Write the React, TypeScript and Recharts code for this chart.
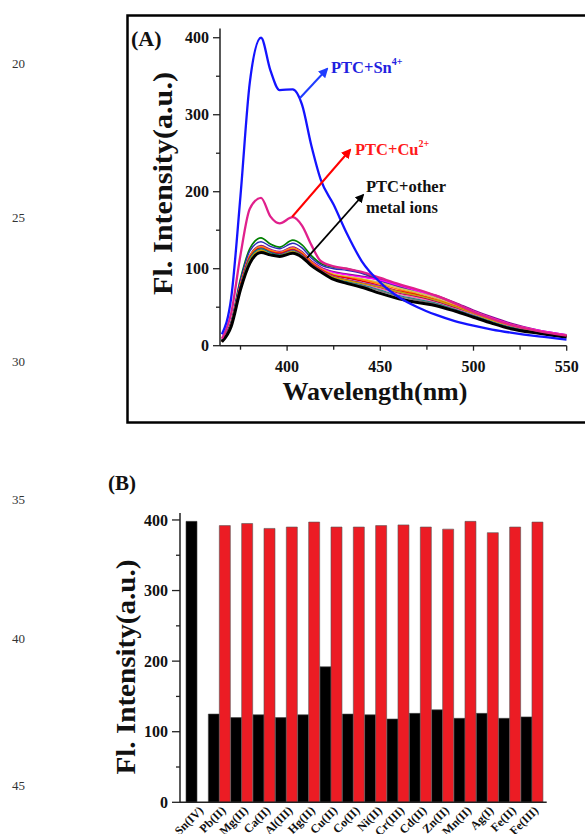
import React from 'react';
import { LineChart, Line, XAxis, YAxis, BarChart, Bar } from 'recharts';

// ---------- Panel A data ----------
const wavelengths = [365, 370, 375, 380, 386, 391, 396, 403, 408, 413, 418, 425, 432, 440, 450, 460, 470, 480, 490, 500, 510, 520, 535, 550];
const snCurve = [15, 62, 195, 342, 400, 358, 332, 333, 313, 260, 216, 183, 146, 110, 82, 63, 50, 40, 32, 26, 21, 17, 12, 8];
const cuCurve = [9, 42, 118, 178, 192, 168, 159, 167, 156, 131, 110, 103, 100, 96, 88, 80, 73, 65, 55, 44, 35, 27, 19, 13];
const pbCurve = [5, 25, 73, 107, 121, 118, 116, 120, 115, 104, 96, 86, 81, 76, 68, 61, 56, 52, 45, 37, 29, 22, 16, 11];
const mgCurve = [7, 31, 87, 126, 140, 132, 128, 137, 131, 117, 107, 102, 100, 95, 85, 77, 70, 63, 53, 44, 35, 27, 19, 13];
const caCurve = [7, 30, 85, 123, 135, 129, 126, 133, 127, 114, 105, 100, 98, 94, 84, 76, 69, 62, 52, 43, 34, 27, 19, 13];
const alCurve = [6, 28, 80, 117, 130, 125, 122, 128, 122, 110, 102, 96, 93, 90, 86, 79, 72, 65, 56, 46, 37, 29, 20, 14];
const hgCurve = [6, 28, 79, 116, 128, 124, 121, 127, 121, 109, 101, 95, 92, 89, 85, 78, 71, 64, 55, 45, 36, 28, 20, 14];
const coCurve = [6, 27, 78, 115, 127, 123, 120, 126, 120, 108, 100, 93, 90, 87, 82, 75, 69, 62, 53, 44, 35, 27, 19, 13];
const niCurve = [6, 28, 80, 117, 129, 124, 121, 127, 121, 109, 100, 92, 89, 86, 80, 73, 67, 60, 52, 43, 34, 27, 19, 13];
const crCurve = [6, 27, 78, 115, 127, 122, 120, 125, 119, 107, 99, 91, 88, 84, 78, 71, 66, 59, 51, 42, 33, 26, 18, 13];
const cdCurve = [5, 26, 76, 113, 125, 121, 119, 124, 118, 106, 98, 90, 86, 82, 77, 70, 64, 58, 50, 41, 33, 26, 18, 12];
const znCurve = [5, 26, 77, 114, 126, 121, 119, 124, 118, 106, 97, 89, 85, 81, 75, 68, 63, 57, 49, 40, 32, 25, 18, 12];
const mnCurve = [5, 26, 75, 112, 124, 120, 118, 123, 117, 105, 97, 88, 84, 80, 74, 67, 62, 56, 48, 40, 32, 25, 17, 12];
const agCurve = [5, 26, 76, 113, 126, 121, 118, 123, 117, 105, 96, 88, 83, 79, 72, 65, 60, 55, 47, 39, 31, 24, 17, 12];
const fe2Curve = [5, 25, 74, 110, 123, 119, 117, 122, 116, 104, 96, 87, 82, 78, 71, 64, 59, 54, 46, 38, 30, 23, 17, 11];
const fe3Curve = [5, 25, 74, 111, 124, 119, 117, 122, 116, 105, 97, 89, 85, 81, 76, 70, 65, 59, 51, 42, 33, 26, 18, 12];

const xTicksA = [375, 400, 425, 450, 475, 500, 525, 550];
const yTicksA = [0, 50, 100, 150, 200, 250, 300, 350, 400];

// ---------- Panel B data ----------
const ions = ['Sn(IV)', 'Pb(II)', 'Mg(II)', 'Ca(II)', 'Al(III)', 'Hg(II)', 'Cu(II)', 'Co(II)', 'Ni(II)', 'Cr(III)', 'Cd(II)', 'Zn(II)', 'Mn(II)', 'Ag(I)', 'Fe(II)', 'Fe(III)'];
const ionOnly = [398, 125, 120, 124, 120, 124, 192, 125, 124, 118, 126, 131, 119, 126, 119, 121];
const ionPlusSn = [null, 392, 395, 388, 390, 397, 390, 390, 392, 393, 390, 387, 398, 382, 390, 397];
const yTicksB = [0, 50, 100, 150, 200, 250, 300, 350, 400];

const FONT = '"Liberation Serif", "Times New Roman", serif';
const AX = '#222';

const otherLines = [
  { key: 'mg', color: '#008000', w: 1.7, values: mgCurve },
  { key: 'ca', color: '#2a2ab8', w: 1.4, values: caCurve },
  { key: 'al', color: '#8b108b', w: 1.8, values: alCurve },
  { key: 'hg', color: '#ff00ff', w: 1.4, values: hgCurve },
  { key: 'co', color: '#d6c266', w: 1.7, values: coCurve },
  { key: 'ni', color: '#ff8c00', w: 1.4, values: niCurve },
  { key: 'cr', color: '#e80000', w: 1.4, values: crCurve },
  { key: 'cd', color: '#9932cc', w: 1.4, values: cdCurve },
  { key: 'zn', color: '#a0002a', w: 1.4, values: znCurve },
  { key: 'mn', color: '#ff69b4', w: 1.4, values: mnCurve },
  { key: 'ag', color: '#008b8b', w: 1.4, values: agCurve },
  { key: 'fe2', color: '#7a7a7a', w: 1.4, values: fe2Curve },
  { key: 'fe3', color: '#c8a000', w: 1.4, values: fe3Curve },
];

const specData = wavelengths.map((w, i) => {
  const row: any = { w, sn: snCurve[i], cu: cuCurve[i], pb: pbCurve[i] };
  otherLines.forEach((l) => { row[l.key] = l.values[i]; });
  return row;
});

const barData = ions.map((name, i) => ({ name, ion: ionOnly[i], ionSn: ionPlusSn[i] }));

const YTickA = (props: any) => {
  const { x, y, payload } = props;
  const v = payload.value;
  const major = v % 100 === 0;
  const ax = x + 11;
  return (
    <g>
      <line x1={ax - (major ? 7 : 4)} x2={ax} y1={y} y2={y} stroke={AX} strokeWidth={1.3} />
      {major && (
        <text x={x} y={y} dy="0.35em" textAnchor="end" fontFamily={FONT} fontWeight="bold" fontSize={16} fill="#111">{v}</text>
      )}
    </g>
  );
};

const XTickA = (props: any) => {
  const { x, y, payload } = props;
  const v = payload.value;
  const major = v % 50 === 0;
  const ay = y - 15;
  return (
    <g>
      <line x1={x} x2={x} y1={ay} y2={ay + (major ? 5 : 4)} stroke={AX} strokeWidth={1.3} />
      {major && (
        <text x={x} y={y} dy="0.71em" textAnchor="middle" fontFamily={FONT} fontWeight="bold" fontSize={16} fill="#111">{v}</text>
      )}
    </g>
  );
};

const YTickB = (props: any) => {
  const { x, y, payload } = props;
  const v = payload.value;
  const major = v % 100 === 0;
  const ax = x + 12;
  return (
    <g>
      <line x1={ax - (major ? 8 : 4)} x2={ax} y1={y} y2={y} stroke={AX} strokeWidth={1.3} />
      {major && (
        <text x={x} y={y} dy="0.35em" textAnchor="end" fontFamily={FONT} fontWeight="bold" fontSize={16} fill="#111">{v}</text>
      )}
    </g>
  );
};

const XTickB = (props: any) => {
  const { x, y, payload } = props;
  const tx = x + 4;
  const ty = y;
  return (
    <text x={tx} y={ty} dy="0.35em" textAnchor="end" transform={`rotate(-45, ${tx}, ${ty})`} fontFamily={FONT} fontWeight="bold" fontSize={12} fill="#111">
      {payload.value}
    </text>
  );
};

const txt = (extra: any = {}) => ({ fontFamily: FONT, fontWeight: 'bold', ...extra });

export default function App() {
  return (
    <div style={{ position: 'absolute', left: 0, top: 0, width: 585, height: 834, background: '#fff', overflow: 'hidden' }}>
      <div style={{ position: 'absolute', left: 0, top: 0 }}>
        <LineChart width={585} height={430} data={specData} margin={{ top: 28.5, right: 18.3, bottom: 54.3, left: 160 }}>
          <XAxis dataKey="w" type="number" domain={[364, 550]} ticks={xTicksA} interval={0} allowDataOverflow
            tickSize={5} tickMargin={10} tickLine={false} height={30} axisLine={{ stroke: AX, strokeWidth: 1.5 }} tick={<XTickA />} />
          <YAxis type="number" domain={[0, 412]} ticks={yTicksA} interval={0} allowDataOverflow
            tickSize={7} tickMargin={4} tickLine={false} width={60} axisLine={{ stroke: AX, strokeWidth: 1.5 }} tick={<YTickA />} />
          {otherLines.map((l) => (
            <Line key={l.key} dataKey={l.key} type="monotone" stroke={l.color} strokeWidth={l.w} dot={false} isAnimationActive={false} />
          ))}
          <Line dataKey="pb" type="monotone" stroke="#000" strokeWidth={3} dot={false} isAnimationActive={false} />
          <Line dataKey="cu" type="monotone" stroke="#e0208c" strokeWidth={2.3} dot={false} isAnimationActive={false} />
          <Line dataKey="sn" type="monotone" stroke="#1414ff" strokeWidth={2.3} dot={false} isAnimationActive={false} />
        </LineChart>
      </div>

      <div style={{ position: 'absolute', left: 0, top: 440 }}>
        <BarChart width={585} height={394} data={barData} margin={{ top: 72.9, right: 38.3, bottom: 1.7, left: 120 }} barCategoryGap={0} barGap={0}>
          <XAxis dataKey="name" interval={0} padding={{ left: 6, right: 3.4 }} tickSize={0} tickMargin={6} tickLine={false} height={30}
            axisLine={{ stroke: AX, strokeWidth: 1.5 }} tick={<XTickB />} />
          <YAxis type="number" domain={[0, 410]} ticks={yTicksB} interval={0} allowDataOverflow
            tickSize={8} tickMargin={4} tickLine={false} width={60} axisLine={{ stroke: AX, strokeWidth: 1.5 }} tick={<YTickB />} />
          <Bar dataKey="ion" fill="#000" stroke="#444" strokeWidth={0.6} isAnimationActive={false} />
          <Bar dataKey="ionSn" fill="#ec1c24" stroke="#555" strokeWidth={0.6} isAnimationActive={false} />
        </BarChart>
      </div>

      <svg width={585} height={834} style={{ position: 'absolute', left: 0, top: 0, pointerEvents: 'none' }}>
        <defs>
          <marker id="ahBlue" viewBox="0 0 10 10" refX="8" refY="5" markerWidth="5" markerHeight="5" orient="auto">
            <path d="M0,0 L10,5 L0,10 z" fill="#1f3cff" />
          </marker>
          <marker id="ahRed" viewBox="0 0 10 10" refX="8" refY="5" markerWidth="5" markerHeight="5" orient="auto">
            <path d="M0,0 L10,5 L0,10 z" fill="#ff0000" />
          </marker>
          <marker id="ahBlack" viewBox="0 0 10 10" refX="8" refY="5" markerWidth="5" markerHeight="5" orient="auto">
            <path d="M0,0 L10,5 L0,10 z" fill="#000" />
          </marker>
        </defs>

        {/* line numbers */}
        {[['20', 68], ['25', 222], ['30', 366], ['35', 504], ['40', 643], ['45', 790]].map(([t, y]) => (
          <text key={t as string} x={12} y={y as number} fontFamily={FONT} fontSize={13} fill="#333">{t}</text>
        ))}

        {/* panel A frame */}
        <rect x={127.5} y={15.5} width={480} height={407} fill="none" stroke="#000" strokeWidth={2.5} />
        <text x={131} y={46} {...txt({ fontSize: 22 })} fill="#111">(A)</text>
        <text x={172} y={183.5} textAnchor="middle" transform="rotate(-90, 172, 183.5)" textLength={223} lengthAdjust="spacingAndGlyphs" {...txt({ fontSize: 28 })} fill="#111">Fl. Intensity(a.u.)</text>
        <text x={375} y={400} textAnchor="middle" {...txt({ fontSize: 26 })} fill="#111">Wavelength(nm)</text>

        <line x1={300} y1={98} x2={327} y2={69} stroke="#1f3cff" strokeWidth={2} markerEnd="url(#ahBlue)" />
        <line x1={292} y1={217} x2={350} y2={150} stroke="#ff0000" strokeWidth={2} markerEnd="url(#ahRed)" />
        <line x1={307} y1={258} x2={363} y2={195} stroke="#000" strokeWidth={1.8} markerEnd="url(#ahBlack)" />

        <text x={331} y={73} {...txt({ fontSize: 16.5 })} fill="#1f1fe0">PTC+Sn<tspan dy={-8} fontSize={10}>4+</tspan></text>
        <text x={355} y={155} {...txt({ fontSize: 16.5 })} fill="#ff1a1a">PTC+Cu<tspan dy={-8} fontSize={10}>2+</tspan></text>
        <text x={366} y={192} {...txt({ fontSize: 16.5 })} fill="#111">PTC+other</text>
        <text x={366} y={213} {...txt({ fontSize: 16.5 })} fill="#111">metal ions</text>

        {/* panel B labels */}
        <text x={108} y={490} {...txt({ fontSize: 21 })} fill="#111">(B)</text>
        <text x={135} y={667} textAnchor="middle" transform="rotate(-90, 135, 667)" textLength={215} lengthAdjust="spacingAndGlyphs" {...txt({ fontSize: 28 })} fill="#111">Fl. Intensity(a.u.)</text>
      </svg>
    </div>
  );
}
